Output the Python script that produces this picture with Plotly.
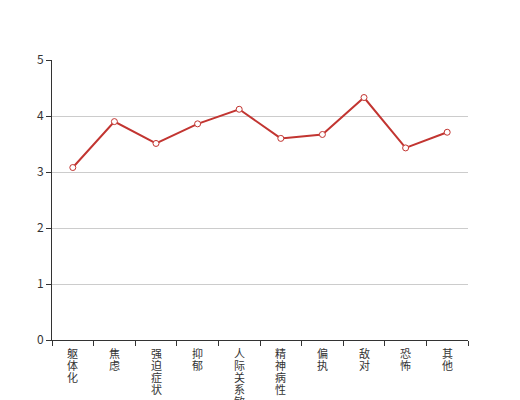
import plotly.graph_objects as go

categories = ["躯体化", "焦虑", "强迫症状", "抑郁", "人际关系敏感", "精神病性", "偏执", "敌对", "恐怖", "其他"]
values = [3.08, 3.90, 3.51, 3.86, 4.12, 3.60, 3.67, 4.33, 3.43, 3.71]
y_ticks = [0, 1, 2, 3, 4, 5]

fig = go.Figure()
fig.add_trace(go.Scatter(
    x=categories, y=values, mode="lines+markers",
    line=dict(color="#c23531", width=2),
    marker=dict(symbol="circle", size=6, color="white", line=dict(color="#c23531", width=1)),
    showlegend=False,
))

# vertical category labels, one character per line
annotations = []
for cat in categories:
    for i, ch in enumerate(cat):
        annotations.append(dict(
            x=cat, xref="x", y=0, yref="paper", yanchor="top",
            yshift=-4 - i * 12, text=ch, showarrow=False, borderpad=0,
            font=dict(size=11, color="#333"),
        ))

fig.update_layout(
    width=520, height=400,
    margin=dict(l=44, r=60, t=52, b=68),
    plot_bgcolor="white", paper_bgcolor="white",
    font=dict(family="Noto Sans CJK SC, sans-serif", size=12, color="#333"),
    annotations=annotations,
)
fig.update_xaxes(
    type="category", tickmode="array", tickvals=categories,
    showticklabels=False, automargin=False,
    tickson="boundaries", ticks="outside", ticklen=5, tickcolor="#333",
    showline=True, linecolor="#333", linewidth=1, showgrid=False,
    range=[-0.5, len(categories) - 0.5],
)
fig.update_yaxes(
    range=[0, 5], tickmode="array", tickvals=y_ticks, automargin=False,
    ticks="outside", ticklen=5, tickcolor="#333",
    showline=True, linecolor="#333", linewidth=1,
    showgrid=True, gridcolor="#ccc", gridwidth=1, zeroline=False,
    tickfont=dict(size=12, color="#333"),
)
fig.write_html("out.html")
